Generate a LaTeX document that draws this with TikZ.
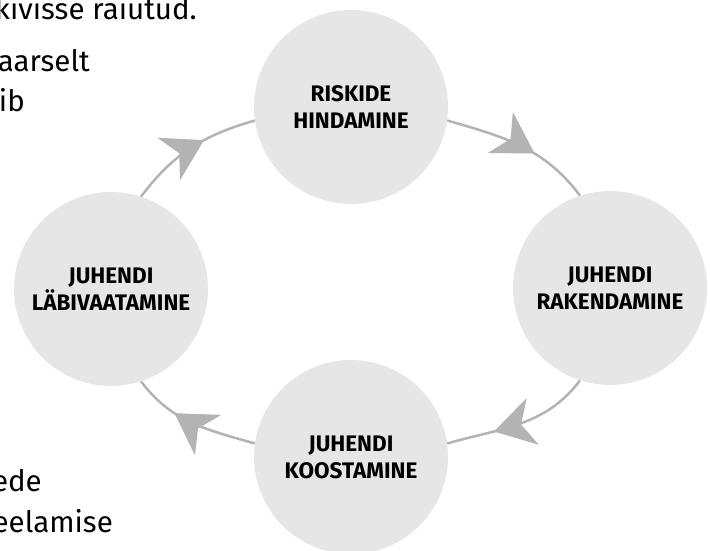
\documentclass[tikz,border=0pt]{standalone}
\usepackage{fontspec}
\setmainfont{Fira Sans}
\usepackage{tikz}
\usetikzlibrary{arrows.meta}
\usetikzlibrary{decorations.markings}
\definecolor{circfill}{HTML}{E6E6E6}
\definecolor{arcgray}{HTML}{B3B3B3}

\begin{document}
\begin{tikzpicture}[x=1pt, y=1pt,
		phase/.style={circle, fill=circfill, minimum size=194pt, inner sep=0pt, align=center,
			font=\fontsize{22.5}{27}\selectfont\bfseries},
		flow/.style={draw=arcgray, line width=2.5pt, postaction={decorate},
			decoration={markings, mark=at position #1 with {\arrow[arcgray]{Stealth[length=40pt,width=48pt,inset=12pt]}}}},
		body/.style={anchor=base east, inner sep=0pt, font=\fontsize{29.5}{36}\selectfont}]
				\useasboundingbox (0,0) rectangle (710,551);
				\path 
				
				(351,444) coordinate (p1)
				(610,263) coordinate (p2)
				(351,94)  coordinate (p3)
				(111,262) coordinate (p4)
				;
				
				% page text behind the figure
				\node[body] (t1) at (197,531) {kivisse raiutud.};
				\node[body] (t2) at (90,479) {aarselt};
				\node[body] (t3) at (25,439) {ib};
				\node[body] (t4) at (42,59) {ede};
				\node[body] (t5) at (113,18) {eelamise};
				
				\node[phase] (risk) at (p1) {RISKIDE\\HINDAMINE};
				\node[phase] (rakend) at (p2) {JUHENDI\\RAKENDAMINE};
				\node[phase] (koost) at (p3) {JUHENDI\\KOOSTAMINE};
				\node[phase] (labiv) at (p4) {JUHENDI\\LÄBIVAATAMINE};
				
				\draw[flow=0.6] (risk.-8) to[out=-16, in=127] (rakend.108);
				\draw[flow=0.68] (rakend.-108) to[out=-127, in=16] (koost.8);
				\draw[flow=0.65] (koost.172) to[out=164, in=-53] (labiv.-72);
				\draw[flow=0.61] (labiv.72) to[out=53, in=196] (risk.188);
				
\end{tikzpicture}
\end{document}
